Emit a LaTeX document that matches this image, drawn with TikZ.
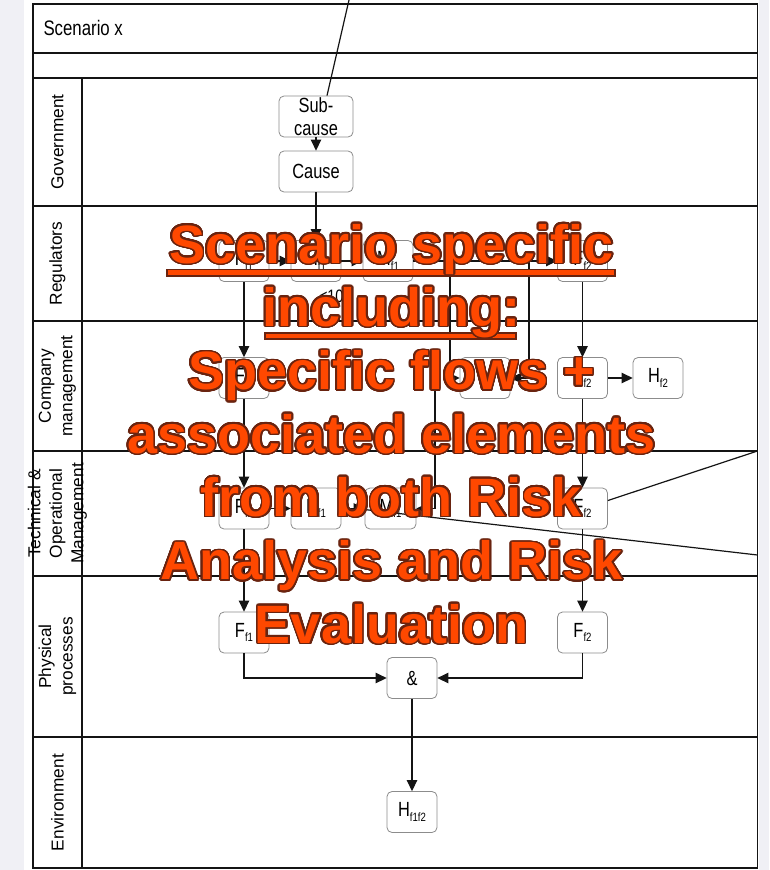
\documentclass[tikz,border=0pt]{standalone}
\usepackage{fontspec}
\setmainfont{Liberation Sans}
\newfontfamily\narrowsf[FakeStretch=0.8]{Liberation Sans}
\usetikzlibrary{arrows.meta}
\usepackage[copies]{contour}
\contourlength{1.6pt}
\contournumber{32}

\definecolor{bggray}{RGB}{240,240,245}
\definecolor{hilite}{RGB}{255,72,0}
\definecolor{hiliteedge}{RGB}{105,35,15}
\definecolor{boxedge}{RGB}{140,140,140}
\definecolor{ink}{RGB}{20,20,20}

% small lowered index used in the element labels
\newcommand\sbs[1]{\raisebox{-0.4ex}{\fontsize{12}{12}\selectfont #1}}

\tikzset{
  frameline/.style={draw=ink, line width=1.4pt},
  elem/.style={draw=boxedge, line width=0.8pt, fill=white, rounded corners=5pt,
    minimum width=50pt, minimum height=41pt, inner sep=0pt, align=center,
    font=\narrowsf\fontsize{20.5}{22.5}\selectfont},
  wire/.style={draw=ink, line width=1.2pt},
  flow/.style={wire, -{Triangle[length=11pt,width=10.5pt]}},
  lanelabel/.style={rotate=90, align=center, inner sep=0pt,
    font=\fontsize{17.3}{21.5}\selectfont},
  bigline/.style={anchor=base, inner sep=0pt, text=hilite,
    font=\bfseries\fontsize{54}{63}\selectfont},
  bar/.style={fill=hilite, draw=hiliteedge, line width=1.3pt}
}

\begin{document}
\begin{tikzpicture}[x=1pt,y=-1pt]
% page ground
\fill[bggray] (0,0) rectangle (769,870);
\fill[white] (24,0) rectangle (759,870);
\useasboundingbox (0,0) rectangle (769,870);

% swimlane frame
\draw[frameline] (33,4) rectangle (757.5,868);
\foreach \yy in {53,78,206,321,451,576,737}
  \draw[frameline] (33,\yy) -- (757.5,\yy);
\draw[frameline] (82,78) -- (82,868);

\node[anchor=west, font=\narrowsf\fontsize{21}{24}\selectfont] (title) at (40,28) {Scenario x};

% lane names
\node[lanelabel] (lgov) at (57.5,142) {Government};
\node[lanelabel] (lreg) at (57.5,263.5) {Regulators};
\node[lanelabel] (lcom) at (57.5,386) {Company\\management};
\node[lanelabel] (ltec) at (57.5,513.5) {Technical \&\\Operational\\Management};
\node[lanelabel] (lphy) at (57.5,656.5) {Physical\\processes};
\node[lanelabel] (lenv) at (57.5,802.5) {Environment};

% elements
\node[elem, minimum width=74pt] (sub) at (316,116.5) {Sub-\\cause};
\node[elem, minimum width=74pt] (cause) at (316,171.5) {Cause};

\node[elem] (rF1) at (244,261) {F\sbs{f1}};
\node[elem] (rH1) at (316,261) {H\sbs{f1}};
\node[elem] (rM1) at (388,261) {M\sbs{f1}};
\node[elem] (rF2) at (582.5,261) {F\sbs{f2}};

\node[elem] (cF1) at (244,378) {F\sbs{f1}};
\node[elem] (cX) at (485,378) {};
\node[elem] (cF2) at (582.5,378) {F\sbs{f2}};
\node[elem] (cH2) at (658,378) {H\sbs{f2}};

\node[elem] (tF1) at (244,508.5) {F\sbs{f1}};
\node[elem] (tH1) at (316,508.5) {H\sbs{f1}};
\node[elem, minimum width=51pt] (tM1) at (390.5,508.5) {M\sbs{f1}};
\node[elem] (tF2) at (582.5,508.5) {F\sbs{f2}};

\node[elem] (pF1) at (244,632.5) {F\sbs{f1}};
\node[elem] (pF2) at (582.5,632.5) {F\sbs{f2}};
\node[elem] (pAnd) at (412,678) {\&};

\node[elem] (hEnv) at (412,812) {H\sbs{f1f2}};

\node[font=\narrowsf\fontsize{18}{20}\selectfont, inner sep=0pt] (lim) at (336,295) {<10\textsuperscript{-7}};

% connectors
\coordinate (topin) at (349,0);
\coordinate (j1) at (450,261);
\coordinate (j2) at (529,261);
\coordinate (j3) at (435,384);
\coordinate (rtA) at (757.5,451);
\coordinate (rtB) at (757.5,555);

\draw[wire] (topin) -- ([xshift=11pt]sub.north);
\draw[flow] (sub) -- (cause);
\draw[flow] (cause) -- (rH1);
\draw[flow] (rF1) -- (rH1);
\draw[flow] (rH1) -- (rM1);
\draw[flow] (rM1) -- (rF2);
\draw[flow] (j1) |- (cX.west);
\draw[flow] (j2) |- (cX.east);
\draw[flow] (rF1) -- (cF1);
\draw[flow] (rF2) -- (cF2);
\draw[flow] (cF2) -- (cH2);
\draw[flow] (cF1) -- (tF1);
\draw[flow] (cF2) -- (tF2);
\draw[flow] (j3) |- (tM1.east);
\draw[flow] (tF1) -- (tH1);
\draw[flow] (tH1) -- (tM1);
\draw[wire] (rtA) -- ([yshift=8pt]tF2.east);
\draw[wire] ([xshift=-9pt]tM1.west) -- (rtB);
\draw[flow] (tF1) -- (pF1);
\draw[flow] (tF2) -- (pF2);
\draw[flow] (pF1) |- (pAnd);
\draw[flow] (pF2) |- (pAnd);
\draw[flow] (pAnd) -- (hEnv);

% overlaid caption
\draw[bar] (167,269.5) rectangle (615,276);
\draw[bar] (265,333) rectangle (516,339);
\node[bigline] (cap1) at (391.5,263) {\contour{hiliteedge}{Scenario specific}};
\node[bigline] (cap2) at (391.5,326.3) {\contour{hiliteedge}{including:}};
\node[bigline] (cap3) at (391.5,389.7) {\contour{hiliteedge}{Specific flows +}};
\node[bigline] (cap4) at (391.5,453) {\contour{hiliteedge}{associated elements}};
\node[bigline] (cap5) at (391.5,516.3) {\contour{hiliteedge}{from both Risk}};
\node[bigline] (cap6) at (391.5,579.7) {\contour{hiliteedge}{Analysis and Risk}};
\node[bigline] (cap7) at (391.5,643) {\contour{hiliteedge}{Evaluation}};
\end{tikzpicture}
\end{document}
